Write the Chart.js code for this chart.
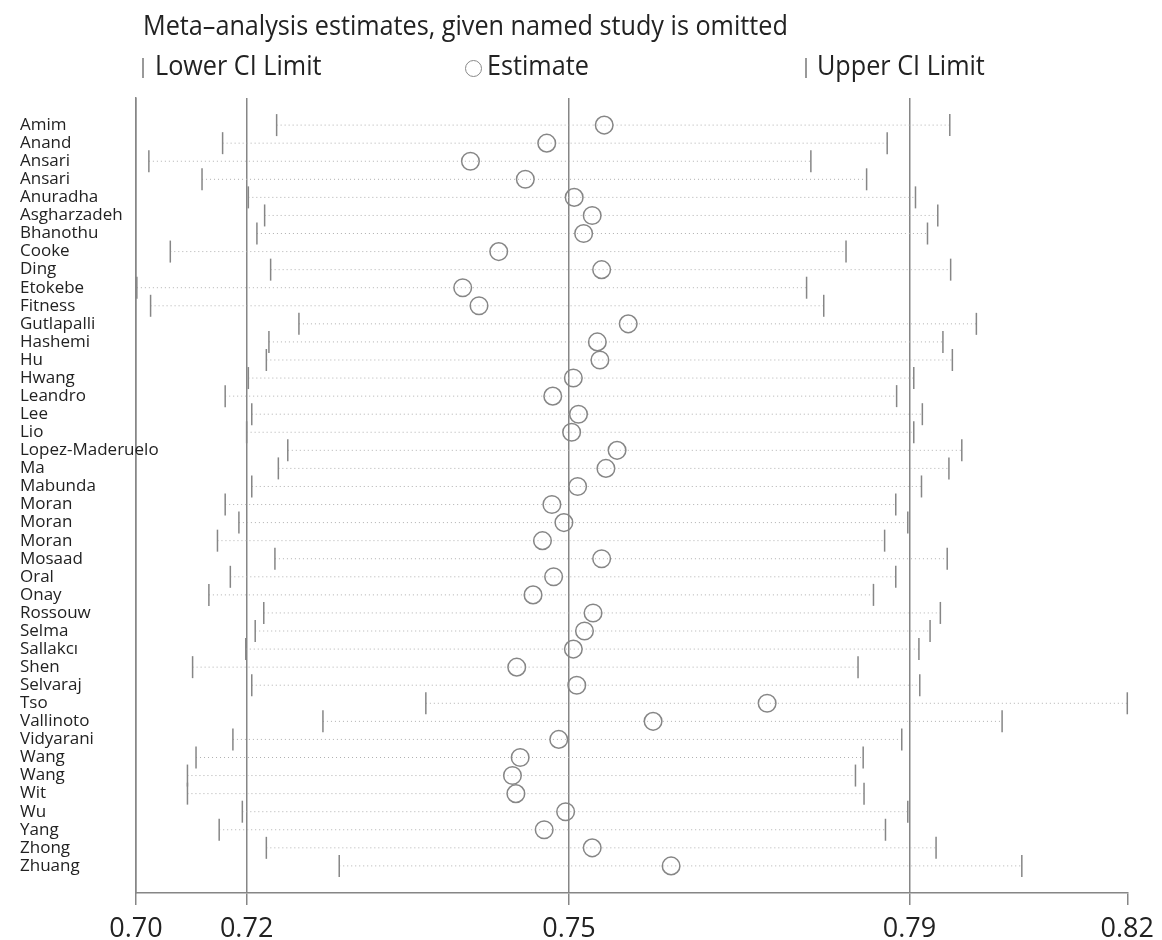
<!DOCTYPE html>
<html>
<head>
<meta charset="utf-8">
<script src="https://cdn.jsdelivr.net/npm/chart.js@4.4.0/dist/chart.umd.min.js"></script>
<style>
  body { margin: 0; background: #fff; font-family: "Open Sans", sans-serif; color: #222; }
  #wrap { position: relative; width: 1162px; height: 940px; }
  #title { position: absolute; left: 143px; top: 5px; font-size: 28px; white-space: nowrap;
           transform: scaleX(0.9); transform-origin: left top; }
  .leg { position: absolute; top: 45px; font-size: 28px; white-space: nowrap;
         transform: scaleX(0.9); transform-origin: left top; }
  .bar { position: absolute; top: 58px; width: 2px; height: 20px; background: #999; }
  .ring { position: absolute; top: 60px; width: 15px; height: 15px; border: 1.5px solid #888; border-radius: 50%; }
</style>
</head>
<body>
<div id="wrap">
  <canvas id="chart" width="1162" height="940"></canvas>
  <div id="title">Meta–analysis estimates, given named study is omitted</div>
  <span class="bar" style="left:142px"></span><span class="leg" style="left:155px">Lower CI Limit</span>
  <span class="ring" style="left:465px"></span><span class="leg" style="left:487px">Estimate</span>
  <span class="bar" style="left:805px"></span><span class="leg" style="left:817px">Upper CI Limit</span>
</div>
<script>
const studies = ['Amim', 'Anand', 'Ansari', 'Ansari', 'Anuradha', 'Asgharzadeh', 'Bhanothu', 'Cooke',
  'Ding', 'Etokebe', 'Fitness', 'Gutlapalli', 'Hashemi', 'Hu', 'Hwang', 'Leandro', 'Lee', 'Lio',
  'Lopez-Maderuelo', 'Ma', 'Mabunda', 'Moran', 'Moran', 'Moran', 'Mosaad', 'Oral', 'Onay', 'Rossouw',
  'Selma', 'Sallakcı', 'Shen', 'Selvaraj', 'Tso', 'Vallinoto', 'Vidyarani', 'Wang', 'Wang', 'Wit',
  'Wu', 'Yang', 'Zhong', 'Zhuang'];

const lowerCI = [0.7200, 0.7137, 0.7051, 0.7113, 0.7167, 0.7186, 0.7177, 0.7076,
  0.7193, 0.7037, 0.7053, 0.7226, 0.7191, 0.7188, 0.7167, 0.7140, 0.7171, 0.7165,
  0.7213, 0.7202, 0.7171, 0.7140, 0.7156, 0.7131, 0.7198, 0.7146, 0.7121, 0.7185,
  0.7175, 0.7164, 0.7102, 0.7171, 0.7374, 0.7254, 0.7149, 0.7106, 0.7096, 0.7096,
  0.7160, 0.7133, 0.7188, 0.7273];

const estimate = [0.7582, 0.7515, 0.7426, 0.7490, 0.7547, 0.7568, 0.7558, 0.7459,
  0.7579, 0.7417, 0.7436, 0.7610, 0.7574, 0.7577, 0.7546, 0.7522, 0.7552, 0.7544,
  0.7597, 0.7584, 0.7551, 0.7521, 0.7535, 0.7510, 0.7579, 0.7523, 0.7499, 0.7569,
  0.7559, 0.7546, 0.7480, 0.7550, 0.7772, 0.7639, 0.7529, 0.7484, 0.7475, 0.7479,
  0.7537, 0.7512, 0.7568, 0.7660];

const upperCI = [0.7985, 0.7912, 0.7823, 0.7888, 0.7945, 0.7971, 0.7959, 0.7864,
  0.7986, 0.7818, 0.7838, 0.8016, 0.7977, 0.7988, 0.7943, 0.7923, 0.7953, 0.7943,
  0.7999, 0.7984, 0.7952, 0.7922, 0.7936, 0.7909, 0.7982, 0.7922, 0.7896, 0.7974,
  0.7962, 0.7949, 0.7878, 0.7950, 0.8192, 0.8046, 0.7929, 0.7884, 0.7875, 0.7885,
  0.7936, 0.7910, 0.7969, 0.8069];

// min, overall lower CI, overall estimate, overall upper CI, max
const tickValues = [0.7036, 0.7165, 0.7541, 0.7938, 0.8192];
const tickLabels = ['0.70', '0.72', '0.75', '0.79', '0.82'];

const gray = '#868686';

const datasets = [];

datasets.push({
    label: 'Estimate',
    data: estimate.map((v, i) => ({ x: v, y: i })),
    pointStyle: 'circle',
    pointRadius: 8.8,
    pointBorderWidth: 1.5,
    pointBorderColor: gray,
    pointBackgroundColor: 'rgba(0,0,0,0)',
    showLine: false,
    clip: false,
    order: 0
});
datasets.push({
    label: 'Lower CI Limit',
    data: lowerCI.map((v, i) => ({ x: v, y: i })),
    pointStyle: 'line',
    pointRotation: 90,
    pointRadius: 11,
    pointBorderWidth: 1.5,
    pointBorderColor: gray,
    showLine: false,
    clip: false,
    order: 0
});
datasets.push({
    label: 'Upper CI Limit',
    data: upperCI.map((v, i) => ({ x: v, y: i })),
    pointStyle: 'line',
    pointRotation: 90,
    pointRadius: 11,
    pointBorderWidth: 1.5,
    pointBorderColor: gray,
    showLine: false,
    clip: false,
    order: 0
});

// dotted line from lower to upper limit for each study
studies.forEach((s, i) => {
    datasets.push({
        label: s,
        data: [{ x: lowerCI[i], y: i }, { x: upperCI[i], y: i }],
        showLine: true,
        borderColor: '#b0b0b0',
        borderWidth: 1,
        borderDash: [1, 3],
        pointRadius: 0,
        clip: false,
        order: 1
    });
});

// let long study names run past the axis line, as in the original
const noLabelClip = {
    id: 'noLabelClip',
    beforeDraw: (chart) => { chart.scales.y._computeLabelArea = () => undefined; }
};

const ctx = document.getElementById('chart').getContext('2d');
new Chart(ctx, {
    type: 'scatter',
    data: { datasets: datasets },
    plugins: [noLabelClip],
    options: {
        responsive: false,
        animation: false,
        layout: { padding: { left: 20, right: 33, top: 98, bottom: 0 } },
        plugins: { legend: { display: false }, tooltip: { enabled: false } },
        scales: {
            x: {
                type: 'linear',
                min: tickValues[0],
                max: tickValues[tickValues.length - 1],
                afterBuildTicks: (axis) => { axis.ticks = tickValues.map(v => ({ value: v })); },
                afterFit: (axis) => { axis.height = 47; },
                ticks: {
                    autoSkip: false,
                    maxRotation: 0,
                    padding: 8,
                    color: '#222',
                    font: { family: 'Open Sans', size: 27 },
                    callback: (v, i) => tickLabels[i]
                },
                grid: {
                    color: (c) => c.index === tickValues.length - 1 ? 'rgba(0,0,0,0)' : gray,
                    tickColor: gray,
                    lineWidth: 1.5,
                    tickLength: 12
                },
                border: { color: gray, width: 1.5 }
            },
            y: {
                type: 'linear',
                reverse: true,
                min: -1.5,
                max: studies.length + 0.5,
                afterBuildTicks: (axis) => { axis.ticks = studies.map((s, i) => ({ value: i })); },
                afterFit: (axis) => { axis.width = 116; },
                ticks: {
                    autoSkip: false,
                    crossAlign: 'far',
                    color: '#222',
                    font: { family: 'Open Sans', size: 17 },
                    callback: (v) => studies[v]
                },
                grid: { display: false },
                border: { color: gray, width: 1.5 }
            }
        }
    }
});
</script>
</body>
</html>
